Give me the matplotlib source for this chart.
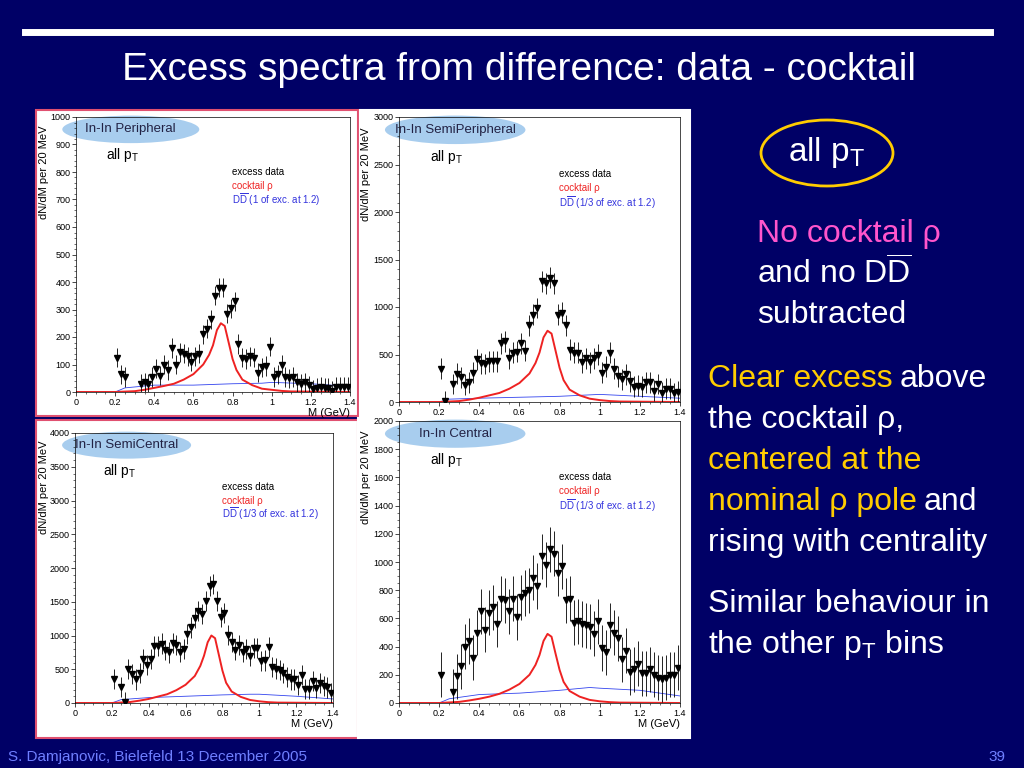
import numpy as np
import matplotlib
matplotlib.use("Agg")
import matplotlib.pyplot as plt
from matplotlib.patches import Ellipse, Rectangle

plt.rcParams['font.family'] = ['Liberation Sans', 'DejaVu Sans']
plt.rcParams['mathtext.fontset'] = 'custom'
plt.rcParams['mathtext.rm'] = 'Liberation Sans'
plt.rcParams['mathtext.it'] = 'Liberation Sans:italic'

nan = np.nan
mass = np.round(np.arange(0.21, 1.40, 0.02), 2)

excess_peripheral = [125,65,55,nan,nan,nan,30,35,30,55,85,60,100,80,160,100,145,140,130,110,130,140,210,230,265,350,380,380,285,305,330,175,125,120,130,125,70,90,95,165,55,65,100,55,50,55,35,30,35,25,10,15,20,15,15,5,20,20,20,20]
excess_semiperipheral = [350,10,nan,190,300,260,180,210,310,450,410,400,430,430,430,620,640,460,520,530,620,540,810,920,990,1270,1250,1310,1250,920,940,810,550,520,520,420,460,420,460,500,310,370,520,350,270,240,290,220,160,170,160,210,210,120,190,100,140,140,90,110]
excess_semicentral = [360,nan,240,20,500,430,350,440,650,560,650,840,840,880,790,750,890,860,760,800,1020,1120,1260,1360,1320,1510,1730,1760,1510,1270,1330,1010,900,790,860,760,800,700,820,810,620,630,830,530,510,490,440,380,350,350,270,410,210,210,330,220,300,250,230,150]
excess_central = [200,nan,nan,80,190,260,400,440,320,500,650,520,640,680,560,740,730,650,740,610,750,780,800,890,830,1040,980,1090,1060,920,970,730,740,570,580,560,550,540,490,580,390,360,550,500,460,310,370,220,240,280,210,210,240,200,180,170,180,200,200,250]
errors = [35, 110, 150, 160]

curve_mass = [0,0.2,0.3,0.35,0.4,0.45,0.5,0.55,0.6,0.65,0.68,0.7,0.72,0.74,0.76,0.78,0.8,0.82,0.85,0.9,0.95,1.0,1.05,1.1,1.4]
rho_peripheral = [0,0,3,8,15,22,30,45,65,100,135,170,225,250,240,180,120,80,45,25,12,8,4,2,0]
rho_semiperipheral = [0,0,10,25,45,70,95,140,200,300,410,520,680,750,720,540,360,230,130,70,35,20,10,5,0]
rho_semicentral = [0,0,15,35,60,95,130,190,270,400,550,700,900,1000,960,720,480,300,170,90,45,25,12,6,0]
rho_central = [0,0,8,18,30,45,65,95,135,200,270,340,440,490,470,350,235,150,85,45,22,12,6,3,0]
dd_mass = [0,0.2,0.25,0.4,0.6,0.8,0.95,1.0,1.2,1.4]
dd_peripheral = [0,0,15,25,25,30,32,35,30,20]
dd_semiperipheral = [0,0,30,40,50,60,75,80,60,40]
dd_semicentral = [0,0,50,80,100,120,130,130,100,60]
dd_central = [0,0,30,60,70,90,110,105,90,50]

names = ["In-In Peripheral", "In-In SemiPeripheral", "In-In SemiCentral", "In-In Central"]
dd_labels = ["(1 of exc. at 1.2)", "(1/3 of exc. at 1.2)", "(1/3 of exc. at 1.2)", "(1/3 of exc. at 1.2)"]
ymaxes = [1000, 3000, 4000, 2000]
yticks = [np.arange(0, 1001, 100), np.arange(0, 3001, 500), np.arange(0, 4001, 500), np.arange(0, 2001, 200)]
excess = [excess_peripheral, excess_semiperipheral, excess_semicentral, excess_central]
rhos = [rho_peripheral, rho_semiperipheral, rho_semicentral, rho_central]
dds = [dd_peripheral, dd_semiperipheral, dd_semicentral, dd_central]

W, H = 1024, 768
fig = plt.figure(figsize=(10.24, 7.68), dpi=100)
bg = '#000066'
fig.patch.set_facecolor(bg)

def fr(x0, y0, x1, y1):
    return [x0 / W, 1 - y1 / H, (x1 - x0) / W, (y1 - y0) / H]

fig.add_artist(plt.Line2D([25/W, 990/W], [1-32/H, 1-32/H], color='white', lw=5))
fig.text(519/W, 1-70/H, "Excess spectra from difference: data - cocktail", color='white',
         fontsize=28, ha='center', va='center')

boxes = [(36,110,358,416), (360,110,690,416), (36,420,358,738), (358,418,690,738)]
axes_rects = [(76,117,350,392), (399,117,680,402), (75,433,333,703), (399,421,680,703)]
edge = ['#e05070', 'white', '#e05070', 'white']
for b, ec in zip(boxes, edge):
    fig.add_artist(Rectangle((b[0]/W, 1-b[3]/H), (b[2]-b[0])/W, (b[3]-b[1])/H,
                             transform=fig.transFigure, facecolor='white', edgecolor=ec, lw=1.5,
                             zorder=-5))

for i in range(4):
    ax = fig.add_axes(fr(*axes_rects[i]))
    ax.set_zorder(1)
    ax.set_facecolor('white')
    ax.set_xlim(0, 1.4)
    ax.set_ylim(0, ymaxes[i])
    ax.set_xticks(np.arange(0, 1.41, 0.2))
    ax.set_xticklabels(['0', '0.2', '0.4', '0.6', '0.8', '1', '1.2', '1.4'])
    ax.set_yticks(yticks[i])
    ax.tick_params(labelsize=6.5, length=3, width=0.5, pad=1)
    ax.minorticks_on()
    ax.tick_params(which='minor', length=1.5, width=0.4)
    for s in ax.spines.values():
        s.set_linewidth(0.5)
    ax.set_ylabel("dN/dM per 20 MeV", fontsize=8, labelpad=1)
    ax.yaxis.set_label_coords(-0.1, 0.8)
    if i != 1:
        ax.set_xlabel("M (GeV)", fontsize=8, loc='right', labelpad=1)
    ax.plot(dd_mass, dds[i], color='#3344ee', lw=0.6)
    ax.plot(curve_mass, rhos[i], color='#ee2222', lw=1.4)
    ax.errorbar(mass, excess[i], yerr=errors[i], fmt='v', color='black', ms=4,
                elinewidth=0.6, capsize=0)
    ax.add_patch(Ellipse((0.2, 0.955), 0.5, 0.1, transform=ax.transAxes,
                         facecolor='#a8cdee', edgecolor='none', clip_on=False))
    ax.text(0.2, 0.955, names[i], transform=ax.transAxes, fontsize=9.5,
            ha='center', va='center', color='#222244')
    ax.text(0.11, 0.86, r"all p$_\mathrm{T}$", transform=ax.transAxes, fontsize=10, va='center')
    ax.text(0.57, 0.8, "excess data", transform=ax.transAxes, fontsize=7, va='center')
    ax.text(0.57, 0.75, "cocktail ρ", transform=ax.transAxes, fontsize=7, va='center', color='#ee2222')
    ax.text(0.57, 0.70, r"D$\overline{\mathrm{D}}$ " + dd_labels[i], transform=ax.transAxes,
            fontsize=7, va='center', color='#3333dd')

fig.add_artist(Ellipse((827/W, 1-153/H), 132/W, 66/H, transform=fig.transFigure,
                       facecolor='none', edgecolor='#ffcc00', lw=2))
fig.text(827/W, 1-153/H, r"all p$_\mathrm{T}$", color='white', fontsize=24, ha='center', va='center')

pink = '#ff55cc'
yel = '#ffcc00'
fs = 23
renderer = fig.canvas.get_renderer()
def line(x, y, parts):
    for s, c in parts:
        tx = fig.text(x/W, 1-y/H, s, color=c, fontsize=fs, ha='left', va='center')
        bb = tx.get_window_extent(renderer)
        x = bb.x1 + 7
line(757, 234, [("No cocktail ρ", pink)])
line(757, 274, [(r"and no D$\overline{\mathrm{D}}$", 'white')])
line(757, 315, [("subtracted", 'white')])
line(708, 379, [("Clear excess", yel), ("above", 'white')])
line(708, 420, [("the cocktail ρ,", 'white')])
line(708, 461, [("centered at the", yel)])
line(708, 502, [("nominal ρ pole", yel), ("and", 'white')])
line(708, 543, [("rising with centrality", 'white')])
line(708, 604, [("Similar behaviour in", 'white')])
line(708, 645, [(r"the other p$_\mathrm{T}$ bins", 'white')])

fig.text(8/W, 1-757/H, "S. Damjanovic, Bielefeld 13 December 2005", color='#6f7fff', fontsize=11, va='center')
fig.text(1005/W, 1-757/H, "39", color='#6f7fff', fontsize=11, va='center', ha='right')

fig.savefig("out.png", dpi=100, facecolor=bg)
